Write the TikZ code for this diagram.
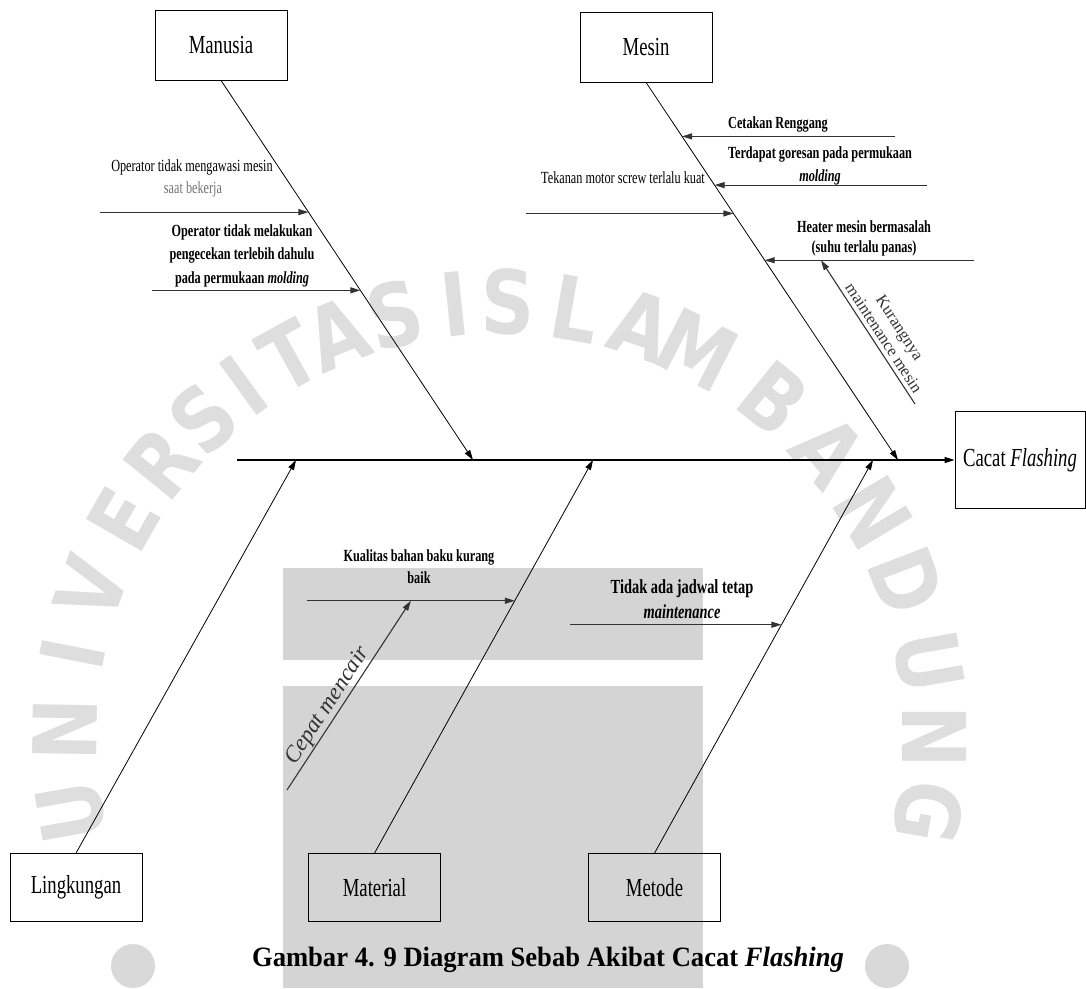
\documentclass[tikz,border=0pt]{standalone}
\usepackage{fontspec}
\setmainfont{Liberation Serif}[FakeStretch=0.72]
\newfontfamily\miringfont{Liberation Serif}
\newfontfamily\judulfont{Liberation Serif}[FakeStretch=0.95]
\newfontfamily\tandafont{DejaVu Sans}[FakeStretch=0.85]
\usepackage{tikz}
\usetikzlibrary{arrows.meta,calc,positioning}

\tikzset{
  kotak/.style={draw, line width=0.8pt, minimum width=132pt, minimum height=68pt, inner sep=0pt, font=\fontsize{26}{30}\selectfont},
  tulang/.style={line width=0.8pt, -{Triangle[length=10pt,width=6pt]}},
  panah/.style={line width=1.1pt, black!80, -{Triangle[length=10pt,width=6pt]}},
  sebab/.style={inner sep=0pt, align=center, font=\fontsize{17}{23}\selectfont},
  tebal/.style={sebab, font=\bfseries\fontsize{17}{23}\selectfont},
  miring/.style={inner sep=1pt, align=center, font=\miringfont\fontsize{16.5}{19}\selectfont},
  tanda/.style={inner sep=0pt, text=black!13, font=\tandafont\bfseries\fontsize{88}{88}\selectfont},
}

\begin{document}
\begin{tikzpicture}[x=1pt, y=-1pt]
\useasboundingbox (0,0) rectangle (1086,988);

\fill [black!17] (283,568) rectangle (703,660);
\fill [black!17] (283,686) rectangle (703,988);
\fill [black!15] (133,966) circle (22pt);
\fill [black!15] (887,966) circle (22pt);
\coordinate (pusat) at (500,737);
\foreach \huruf/\sudut in {U/190,N/179,I/169,V/160,E/150,R/141,S/133,I/126,T/119,A/112,S/104,I/96,S/89,L/80,A/71,M/63,B/51,A/41,N/31,D/21,U/10,N/0,G/-10}
  \node [tanda, rotate=\sudut-90] at ($(pusat)+(\sudut:435pt)$) {\huruf};

\node [kotak, minimum height=70pt] (manusia) at (221,45) {Manusia};
\node [kotak, minimum height=70pt] (mesin) at (646,47) {Mesin};
\node [kotak] (lingkungan) at (76,887.5) {Lingkungan};
\node [kotak] (material) at (374.5,887.5) {Material};
\node [kotak] (metode) at (654.5,887.5) {Metode};
\node [kotak, minimum width=130pt, minimum height=97pt] (akibat) at (1020,460) {Cacat \textit{Flashing}};

\coordinate (ekor) at (237,460);
\draw [tulang, line width=1.3pt] (ekor) -- (akibat.west);

\coordinate (jmanusia) at (473,460);
\coordinate (jmesin) at (898,460);
\coordinate (jlingkungan) at (296,460);
\coordinate (jmaterial) at (593,460);
\coordinate (jmetode) at (873,460);
\draw [tulang] (manusia.south) -- (jmanusia);
\draw [tulang] (mesin.south) -- (jmesin);
\draw [tulang] (lingkungan.north) -- (jlingkungan);
\draw [tulang] (material.north) -- (jmaterial);
\draw [tulang] (metode.north) -- (jmetode);

\coordinate (m1) at ($(manusia.south)!.347!(jmanusia)$);
\coordinate (m2) at ($(manusia.south)!.553!(jmanusia)$);
\coordinate (m1a) at (100,0);
\coordinate (m2a) at (152,0);
\draw [panah] (m1a |- m1) -- (m1);
\draw [panah] (m2a |- m2) -- (m2);
\node [sebab, anchor=north] (om1) at (192,160) {Operator tidak mengawasi mesin};
\node [sebab, anchor=north, text=black!55] (om1b) at (193,182) {saat bekerja};
\node [tebal, anchor=north, font=\bfseries\fontsize{17}{23.5}\selectfont] (om2) at (242,224) {Operator tidak melakukan\\pengecekan terlebih dahulu\\pada permukaan \textit{molding}};

\coordinate (s1) at ($(mesin.south)!.143!(jmesin)$);
\coordinate (s2) at ($(mesin.south)!.272!(jmesin)$);
\coordinate (s3) at ($(mesin.south)!.347!(jmesin)$);
\coordinate (s4) at ($(mesin.south)!.471!(jmesin)$);
\coordinate (s1a) at (895,0);
\coordinate (s2a) at (927,0);
\coordinate (s3a) at (526,0);
\coordinate (s4a) at (974,0);
\draw [panah] (s1a |- s1) -- (s1);
\draw [panah] (s2a |- s2) -- (s2);
\draw [panah] (s3a |- s3) -- (s3);
\draw [panah] (s4a |- s4) -- (s4);
\node [tebal, anchor=north] (os1) at (778,117) {Cetakan Renggang};
\node [tebal, anchor=north] (os2) at (820,147) {Terdapat goresan pada permukaan\\\textit{molding}};
\node [sebab, anchor=north] (os3) at (623,172) {Tekanan motor screw terlalu kuat};
\node [tebal, anchor=north, font=\bfseries\fontsize{17}{20}\selectfont] (os4) at (864,220) {Heater mesin bermasalah\\(suhu terlalu panas)};

\coordinate (k1) at ($(s4a |- s4)!.731!(s4)$);
\coordinate (k1a) at (915,404);
\draw [panah] (k1a) -- node [miring, sloped, above, pos=.42, inner sep=4pt] (ok1) {Kurangnya\\maintenance mesin} (k1);

\coordinate (r1) at ($(material.north)!.642!(jmaterial)$);
\coordinate (r1a) at (307,0);
\draw [panah] (r1a |- r1) -- (r1);
\node [tebal, anchor=north, font=\bfseries\fontsize{17}{22}\selectfont] (or1) at (419,549.5) {Kualitas bahan baku kurang\\baik};
\coordinate (r2) at ($(r1a |- r1)!.5!(r1)$);
\coordinate (r2a) at (287,790);
\draw [panah] (r2a) -- node [miring, sloped, above, pos=.41, font=\miringfont\itshape\fontsize{23}{26}\selectfont] (or2) {Cepat mencair} (r2);

\coordinate (d1) at ($(metode.north)!.581!(jmetode)$);
\coordinate (d1a) at (570,0);
\draw [panah] (d1a |- d1) -- (d1);
\node [tebal, anchor=north, font=\bfseries\fontsize{20}{25}\selectfont] (od1) at (682,579.5) {Tidak ada jadwal tetap\\\textit{maintenance}};

\node [anchor=base, inner sep=0pt, font=\judulfont\bfseries\fontsize{28}{32}\selectfont] (judul) at (548,966) {Gambar 4. 9 Diagram Sebab Akibat Cacat \textit{Flashing}};
\end{tikzpicture}
\end{document}
